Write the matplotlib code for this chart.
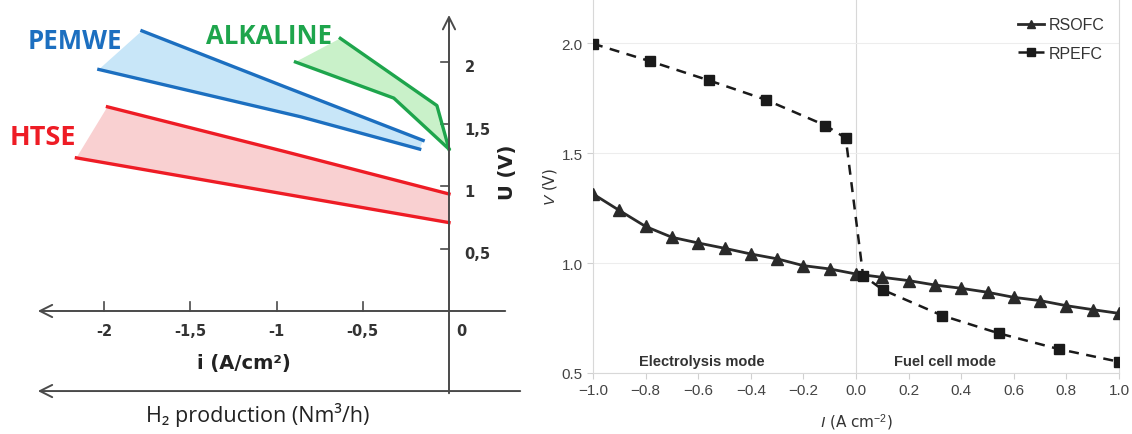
import matplotlib.pyplot as plt

# ---- left panel: schematic polarisation bands (U vs i) ----
pem_up_x = [-1.78, -0.95, -0.15]
pem_up_y = [2.25, 1.80, 1.37]
pem_lo_x = [-2.03, -0.86, -0.17]
pem_lo_y = [1.94, 1.56, 1.30]

alk_up_x = [-0.63, -0.07, 0.0]
alk_up_y = [2.19, 1.65, 1.30]
alk_lo_x = [-0.89, -0.32, 0.0]
alk_lo_y = [2.00, 1.71, 1.30]

htse_up_x = [-1.98, -0.95, 0.0]
htse_up_y = [1.64, 1.28, 0.94]
htse_lo_x = [-2.16, 0.0]
htse_lo_y = [1.23, 0.71]

left_xticks = [-2, -1.5, -1, -0.5]
left_xlabels = ['-2', '-1,5', '-1', '-0,5']
left_yticks = [0.5, 1, 1.5, 2]
left_ylabels = ['0,5', '1', '1,5', '2']

# ---- right panel: RSOFC / RPEFC curves ----
rsofc_i = [-1.0, -0.9, -0.8, -0.7, -0.6, -0.5, -0.4, -0.3, -0.2, -0.1, 0.0,
           0.1, 0.2, 0.3, 0.4, 0.5, 0.6, 0.7, 0.8, 0.9, 1.0]
rsofc_v = [1.314, 1.239, 1.166, 1.117, 1.091, 1.067, 1.041, 1.019, 0.988, 0.973, 0.950,
           0.935, 0.920, 0.900, 0.885, 0.867, 0.844, 0.829, 0.806, 0.788, 0.771]
rpefc_i = [-1.0, -0.785, -0.559, -0.343, -0.116, -0.039, 0.027, 0.102, 0.328, 0.544, 0.770, 1.0]
rpefc_v = [1.997, 1.918, 1.830, 1.742, 1.625, 1.568, 0.943, 0.878, 0.761, 0.680, 0.609, 0.551]

right_xticks = [-1.0, -0.8, -0.6, -0.4, -0.2, 0.0, 0.2, 0.4, 0.6, 0.8, 1.0]
right_yticks = [0.5, 1.0, 1.5, 2.0]

plt.rcParams['mathtext.fontset'] = 'custom'
plt.rcParams['mathtext.rm'] = 'Liberation Sans'
plt.rcParams['mathtext.it'] = 'Liberation Sans:italic'

fig = plt.figure(figsize=(11.32, 4.35), dpi=100)

# left panel
ax1 = fig.add_axes([0, 0, 530 / 1132, 1])
ax1.set_xlim(-2.603, 0.4696)
ax1.set_ylim(-0.988, 2.506)
ax1.axis('off')

bands = [
    (pem_up_x, pem_up_y, pem_lo_x, pem_lo_y, '#1c6fc0', '#c8e6f8'),
    (alk_up_x, alk_up_y, alk_lo_x, alk_lo_y, '#1ea54c', '#c9f1c9'),
    (htse_up_x, htse_up_y, htse_lo_x, htse_lo_y, '#ee1c25', '#f9d0d1'),
]
for ux, uy, lx, ly, lc, fc in bands:
    ax1.fill(ux + lx[::-1], uy + ly[::-1], color=fc, lw=0, zorder=1)
    ax1.plot(ux, uy, color=lc, lw=2.4, zorder=3)
    ax1.plot(lx, ly, color=lc, lw=2.4, zorder=3)

axc = '#4a4a4a'
arrow = dict(arrowstyle='->', color=axc, lw=1.4, mutation_scale=22)
ax1.annotate('', xy=(-2.40, 0), xytext=(0.342, 0), arrowprops=arrow)
ax1.annotate('', xy=(-2.40, -0.643), xytext=(0.429, -0.643), arrowprops=arrow)
ax1.annotate('', xy=(0, 2.40), xytext=(0, -0.683), arrowprops=arrow)

for t, lab in zip(left_xticks, left_xlabels):
    ax1.plot([t, t], [0, 0.07], color=axc, lw=1.2)
    ax1.text(t, -0.16, lab, ha='center', va='center', fontsize=10.5,
             fontweight='bold', color='#333333')
ax1.text(0.07, -0.16, '0', ha='center', va='center', fontsize=10.5,
         fontweight='bold', color='#333333')
for t, lab in zip(left_yticks, left_ylabels):
    ax1.plot([-0.045, 0], [t, t], color=axc, lw=1.2)
    ax1.text(0.09, t - 0.04, lab, ha='left', va='center', fontsize=10.5,
             fontweight='bold', color='#333333')

ax1.text(0.342, 1.12, 'U (V)', rotation=90, ha='center', va='center',
         fontsize=14, fontweight='bold', color='#222222')
ax1.text(-1.19, -0.41, 'i (A/cm²)', ha='center', va='center', fontsize=14,
         fontweight='bold', color='#222222')
ax1.text(-1.107, -0.83, 'H₂ production (Nm³/h)', ha='center', va='center',
         fontsize=15.5, color='#222222', family=['Open Sans', 'DejaVu Sans'])

ax1.text(-2.44, 2.17, 'PEMWE', fontsize=18.5, fontweight='bold', color='#1c6fc0',
         family='Open Sans', ha='left', va='center')
ax1.text(-1.41, 2.21, 'ALKALINE', fontsize=18.5, fontweight='bold', color='#1ea54c',
         family='Open Sans', ha='left', va='center')
ax1.text(-2.545, 1.40, 'HTSE', fontsize=19.5, fontweight='bold', color='#ee1c25',
         family='Open Sans', ha='left', va='center')

# right panel
ax2 = fig.add_axes([593 / 1132, 61 / 435, (1119 - 593) / 1132, 374 / 435])
ax2.set_xlim(-1.0, 1.0)
ax2.set_ylim(0.5, 2.2)
for s in ax2.spines.values():
    s.set_color('#d8d8d8')
    s.set_linewidth(0.8)
ax2.spines['top'].set_visible(False)
ax2.set_xticks(right_xticks)
ax2.set_yticks(right_yticks)
ax2.set_xticklabels([f'{t:.1f}'.replace('-', '\u2212') for t in right_xticks])
ax2.set_yticklabels([f'{t:.1f}' for t in right_yticks])
ax2.tick_params(colors='#d0d0d0', labelcolor='#444444', labelsize=11, length=4)
for lab in ax2.get_xticklabels() + ax2.get_yticklabels():
    lab.set_family('Liberation Sans')
ax2.grid(axis='y', color='#ededed', lw=0.8)
ax2.axvline(0, color='#d8d8d8', lw=0.8, zorder=0)

ax2.plot(rsofc_i, rsofc_v, '-^', color='#2a2a2a', lw=2.0, ms=8, label='RSOFC', zorder=3)
ax2.plot(rpefc_i, rpefc_v, '--s', color='#1a1a1a', lw=1.8, ms=7.5, dashes=(4, 3),
         label='RPEFC', zorder=3)

ax2.text(-0.586, 0.555, 'Electrolysis mode', ha='center', va='center', fontsize=10.5,
         fontweight='bold', color='#333333', family='Liberation Sans')
ax2.text(0.338, 0.555, 'Fuel cell mode', ha='center', va='center', fontsize=10.5,
         fontweight='bold', color='#333333', family='Liberation Sans')

ax2.set_ylabel(r'$\it{V}$ (V)', fontsize=11, color='#333333', labelpad=2)
ax2.set_xlabel(r'$\it{I}$ (A cm$^{-2}$)', fontsize=11, color='#333333', labelpad=10)

leg = ax2.legend(loc='upper right', frameon=False, handlelength=1.6,
                 handletextpad=0.3, markerscale=0.8, bbox_to_anchor=(1.0, 0.99),
                 labelspacing=0.85, prop={'family': 'Liberation Sans', 'size': 11.5})
for t in leg.get_texts():
    t.set_color('#333333')

fig.savefig('out.png', dpi=100)
